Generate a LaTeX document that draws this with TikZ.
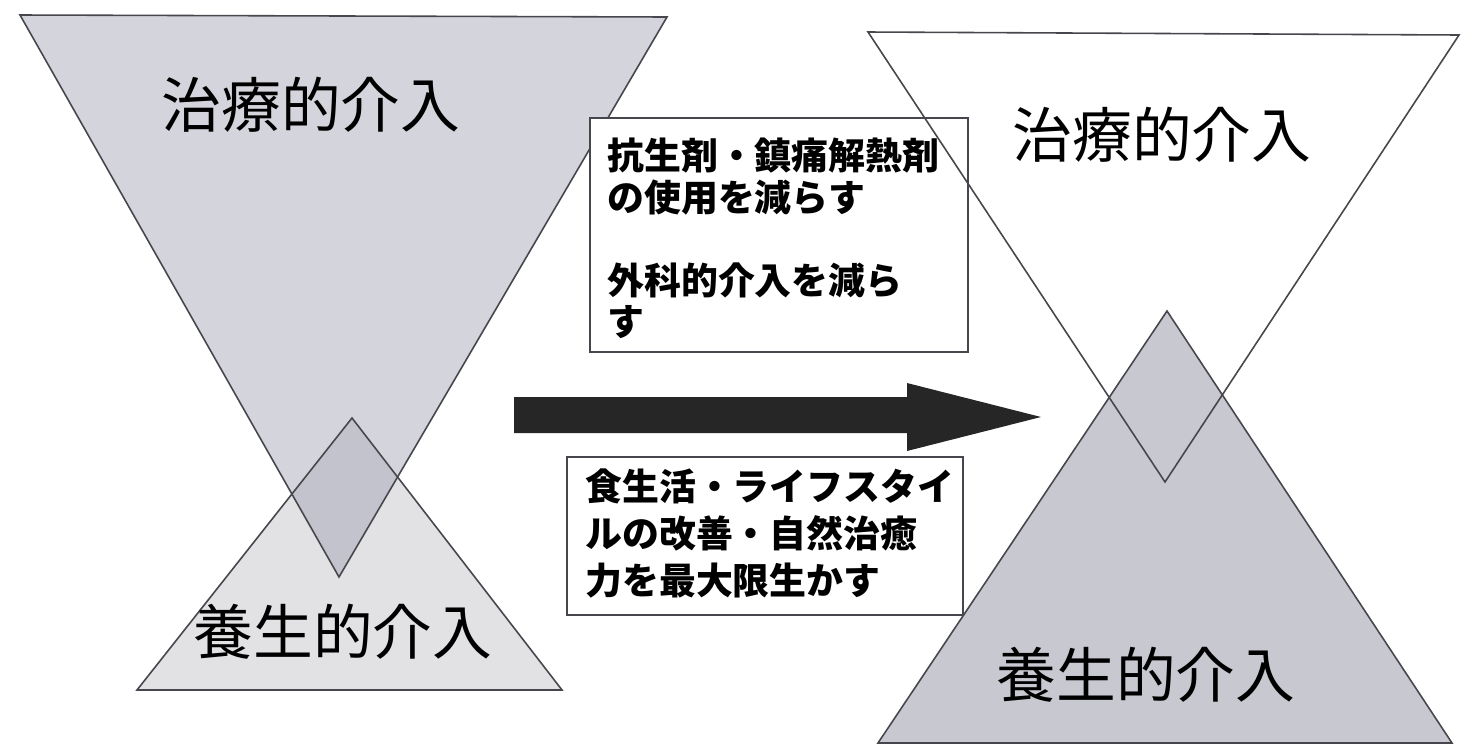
\documentclass[tikz,border=0pt]{standalone}
\usepackage{fontspec}
\newfontfamily\jpfont{Noto Sans CJK JP}
\definecolor{grisA}{RGB}{212,212,220}
\definecolor{grisB}{RGB}{160,160,172}
\definecolor{grisC}{RGB}{200,200,209}
\definecolor{linea}{RGB}{70,70,76}
\begin{document}
\begin{tikzpicture}[x=0.02cm, y=-0.02cm,
        borde/.style={draw=linea, line width=0.9pt, line join=miter},
        etiqueta/.style={font=\jpfont\fontsize{34}{40}\selectfont, inner sep=0pt},
        caja/.style={draw=linea, line width=0.8pt, fill=white},
        texto/.style={font=\jpfont\bfseries\fontsize{21}{23.5}\selectfont, align=left, inner sep=0pt, anchor=north west}]
        \useasboundingbox (0,0) rectangle (1461,751);

        % Antes: triangulo invertido y triangulo de abajo
        \fill[grisA] (20,15) -- (667,17) -- (339,577) -- cycle;
        \fill[grisB, fill opacity=0.31] (352,418) -- (562,690) -- (137,690) -- cycle;
        \draw[borde] (20,15) -- (667,17) -- (339,577) -- cycle;
        \draw[borde] (352,418) -- (562,690) -- (137,690) -- cycle;
        \node[etiqueta] (trat1) at (311,105) {治療的介入};
        \node[etiqueta] (yojo1) at (343,632) {養生的介入};

        % Cajas de texto
        \draw[caja] (590,118) rectangle (968,352);
        \node[texto] (reducir) at (607,138) {抗生剤・鎮痛解熱剤\\の使用を減らす\\[0.84cm]外科的介入を減ら\\す};
        \draw[caja] (567,457) rectangle (963,615);
        \node[texto, font=\jpfont\bfseries\fontsize{21}{27}\selectfont] (mejorar) at (585,468) {食生活・ライフスタイ\\ルの改善・自然治癒\\力を最大限生かす};

        % Flecha
        \fill[black!85] (514,397) -- (907,397) -- (907,383) -- (1041,417)
            -- (907,451) -- (907,433) -- (514,433) -- cycle;

        % Despues: triangulo de abajo grande
        \fill[grisC] (1167,311) -- (1452,743) -- (878,743) -- cycle;
        \draw[borde] (1167,311) -- (1452,743) -- (878,743) -- cycle;
        \draw[borde] (868,32) -- (1459,35) -- (1165,482) -- cycle;
        \node[etiqueta] (trat2) at (1162,135) {治療的介入};
        \node[etiqueta] (yojo2) at (1146,675) {養生的介入};
    \end{tikzpicture}
\end{document}
